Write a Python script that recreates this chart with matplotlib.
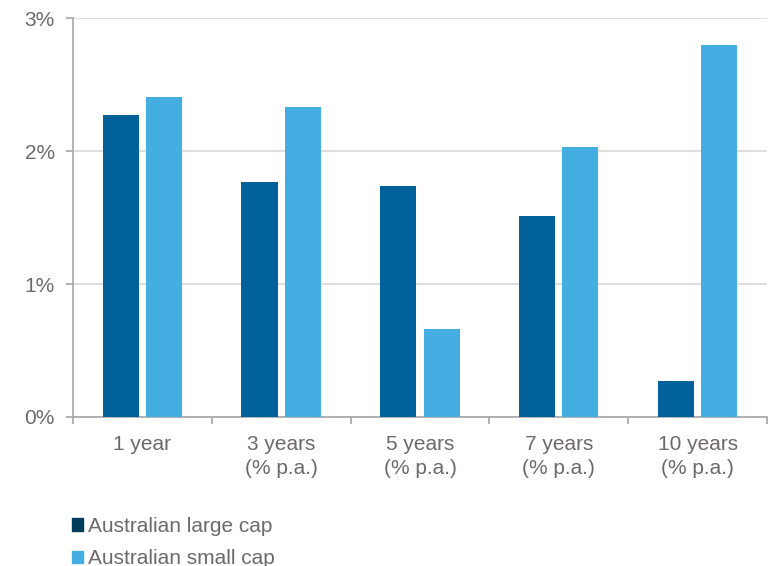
import matplotlib
matplotlib.use("Agg")
import matplotlib.pyplot as plt
import numpy as np
from matplotlib.patches import Patch

categories = ["1 year", "3 years\n(% p.a.)", "5 years\n(% p.a.)", "7 years\n(% p.a.)", "10 years\n(% p.a.)"]
large_cap = [2.27, 1.77, 1.74, 1.51, 0.27]
small_cap = [2.41, 2.33, 0.66, 2.03, 2.80]
y_ticks = [0, 1, 2, 3]
y_labels = ["0%", "1%", "2%", "3%"]
series_names = ["Australian large cap", "Australian small cap"]

dark_bar = "#00619b"
light_bar = "#44aee2"
legend_dark = "#003b5c"
text_col = "#6f686a"
axis_col = "#a6a6a6"
grid_col = "#d9d9d9"

plt.rcParams["font.family"] = ["Liberation Sans", "DejaVu Sans"]

fig = plt.figure(figsize=(7.69, 5.66), dpi=100)
ax = fig.add_axes([0.0949, 0.2633, 0.9025, 0.7047])

x = np.arange(len(categories))
w = 0.26
off = 0.156
ax.bar(x - off, large_cap, width=w, color=dark_bar, zorder=3)
ax.bar(x + off, small_cap, width=w, color=light_bar, zorder=3)

ax.set_xlim(-0.5, len(categories) - 0.5)
ax.set_ylim(0, 3)
ax.set_yticks(y_ticks)
ax.set_yticklabels(y_labels)
ax.yaxis.grid(True, color=grid_col, linewidth=1.2, zorder=0)
ax.set_axisbelow(True)

# category labels at centres, tick marks at category boundaries
ax.set_xticks(x)
ax.set_xticklabels(categories, linespacing=1.3)
ax.set_xticks(np.arange(-0.5, len(categories)), minor=True)
ax.tick_params(axis="x", which="major", length=0, pad=13, labelsize=15, labelcolor=text_col)
ax.tick_params(axis="x", which="minor", length=5, width=1.2, color=axis_col, direction="out")
ax.tick_params(axis="y", length=5, width=1.2, color=axis_col, direction="out",
               labelsize=15, labelcolor=text_col, pad=8)

for s in ["top", "right"]:
    ax.spines[s].set_visible(False)
for s in ["left", "bottom"]:
    ax.spines[s].set_color(axis_col)
    ax.spines[s].set_linewidth(1.2)

handles = [Patch(color=legend_dark), Patch(color=light_bar)]
fig.legend(handles, series_names, loc="upper left", bbox_to_anchor=(0.093, 0.087),
           frameon=False, fontsize=15, labelcolor=text_col,
           handlelength=0.55, handleheight=0.55, handletextpad=0.25,
           labelspacing=0.65, borderaxespad=0, borderpad=0)

fig.savefig("out.png", dpi=100)
